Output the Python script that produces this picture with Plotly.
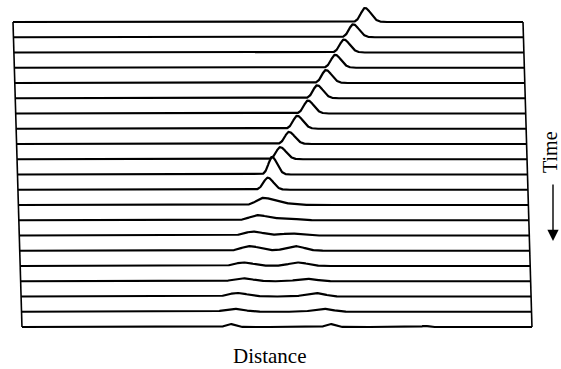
import numpy as np
import plotly.graph_objects as go

# ---- data ----
time_steps = list(range(21))                      # 0 = top trace
# main pulse: centre (distance units 0..100), amplitude (trace-spacing units), left/right widths
main_pos = [69.0, 66.6, 64.7, 62.9, 61.0, 59.2, 57.3, 55.1, 53.4, 51.6, 49.9,
            49.0, 48.0, 46.9, 45.8, 45.1, 43.7, 43.4, 42.3, 41.5, 40.8]
main_amp = [0.92, 0.85, 0.85, 0.85, 0.85, 0.85, 0.85, 0.85, 0.79, 0.79, 1.15,
            0.79, 0.46, 0.33, 0.26, 0.30, 0.23, 0.20, 0.23, 0.20, 0.20]
main_wl = [0.80, 0.80, 0.80, 0.80, 0.80, 0.80, 0.80, 0.80, 0.80, 0.80, 0.70,
           0.85, 1.3, 1.6, 1.6, 1.6, 1.6, 1.6, 1.6, 1.6, 0.8]
main_wr = [1.15, 1.15, 1.15, 1.15, 1.15, 1.15, 1.15, 1.15, 1.15, 1.15, 1.0,
           1.1, 1.9, 2.0, 2.0, 2.0, 2.0, 2.0, 2.0, 2.0, 0.8]
# second pulse (appears from step 12 downward)
sec_pos = [None] * 12 + [51.9, 52.4, 53.1, 54.0, 54.5, 56.1, 57.6, 59.1, 60.4]
sec_amp = [0.0] * 12 + [0.10, 0.13, 0.13, 0.30, 0.23, 0.16, 0.23, 0.20, 0.20]
sec_w = [1.0] * 12 + [1.8, 1.8, 1.8, 1.8, 1.8, 1.8, 1.8, 1.8, 0.8]
# faint third mark on the last trace
third_pos = 79.0
third_amp = 0.07

skew = 0.088          # horizontal drift of each trace start (distance units per step)

u = np.linspace(0, 100, 1501)


def pulse(x, c, a, wl, wr):
    s = np.where(x < c, wl, wr)
    return a * np.exp(-0.5 * ((x - c) / s) ** 2)


fig = go.Figure()
left_x, left_y, right_x, right_y = [], [], [], []
for k in time_steps:
    sig = pulse(u, main_pos[k], main_amp[k], main_wl[k], main_wr[k])
    if sec_pos[k] is not None:
        sig = sig + pulse(u, sec_pos[k], sec_amp[k], sec_w[k], sec_w[k])
    if k == time_steps[-1]:
        sig = sig + pulse(u, third_pos, third_amp, 0.6, 0.6)
    x = u + skew * k
    y = k - sig
    fig.add_trace(go.Scatter(x=x, y=y, mode="lines",
                             line=dict(color="black", width=2.2),
                             hoverinfo="skip", showlegend=False))
    left_x.append(x[0]); left_y.append(y[0])
    right_x.append(x[-1]); right_y.append(y[-1])

for fx, fy in ((left_x, left_y), (right_x, right_y)):
    fig.add_trace(go.Scatter(x=fx, y=fy, mode="lines",
                             line=dict(color="black", width=1.6),
                             hoverinfo="skip", showlegend=False))

W, H = 561, 369
px_per_u = 5.1
px_per_t = 15.25
x0_px, y0_px = 13, 22
xr = [-x0_px / px_per_u, (W - x0_px) / px_per_u]
yr = [(H - y0_px) / px_per_t, -y0_px / px_per_t]

fig.update_layout(
    width=W, height=H,
    margin=dict(l=0, r=0, t=0, b=0),
    paper_bgcolor="white", plot_bgcolor="white",
    xaxis=dict(range=xr, visible=False, fixedrange=True),
    yaxis=dict(range=yr, visible=False, fixedrange=True),
    font=dict(family="Liberation Serif, Times New Roman, serif", color="black"),
    annotations=[
        dict(text="Distance", xref="paper", yref="paper",
             x=269 / W, y=1 - 356 / H, showarrow=False,
             font=dict(size=21), xanchor="center", yanchor="middle"),
        dict(text="Time", xref="paper", yref="paper",
             x=550 / W, y=1 - 152 / H, showarrow=False, textangle=-90,
             font=dict(size=20), xanchor="center", yanchor="middle"),
        dict(text="", xref="paper", yref="paper",
             x=553 / W, y=1 - 241 / H, showarrow=True,
             ax=0, ay=-58, arrowhead=2, arrowsize=1.6, arrowwidth=1.4,
             arrowcolor="black"),
    ],
)

fig.write_html("out.html")
